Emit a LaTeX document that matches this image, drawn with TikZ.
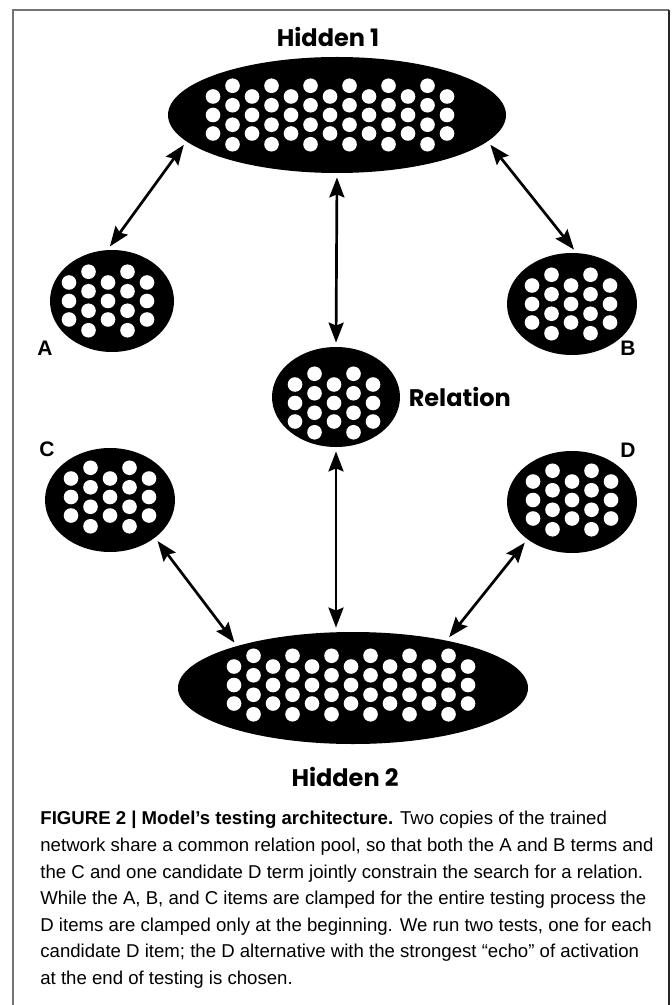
\documentclass[tikz,border=0pt]{standalone}
\usepackage{fontspec}
\setmainfont{Liberation Sans}
\newfontfamily\capfont{Liberation Sans}
\newfontfamily\labfont{Poppins}
\usetikzlibrary{shapes.geometric, arrows.meta, positioning}

% white units of a pool: #1,#2 centre, #3 number of columns
\newcommand{\pool}[3]{%
  \foreach \c in {1,...,#3}{%
    \pgfmathsetmacro{\px}{#1+(\c-(#3+1)/2)*19.5}
    \ifodd\c
      \foreach \r in {-1,0,1} \fill[white] (\px,{#2+\r*18.5}) circle (3.65pt);
    \else
      \foreach \r in {-1.5,-0.5,0.5,1.5} \fill[white] (\px,{#2+\r*19.5}) circle (3.65pt);
    \fi
  }}

\begin{document}
\begin{tikzpicture}[x=0.5pt, y=-0.5pt]
    \tikzstyle{layer} = [ellipse, fill=black, inner sep=0pt]
    \tikzstyle{poolname} = [font=\labfont\bfseries\fontsize{12}{14}\selectfont, inner sep=1pt]
    \tikzstyle{letter} = [font=\bfseries\fontsize{10.5}{12}\selectfont, inner sep=0pt]
    \tikzstyle{link} = [line width=1.35pt, {Stealth[length=10pt,width=7.5pt,inset=1.5pt]}-{Stealth[length=10pt,width=7.5pt,inset=1.5pt]}, shorten <=2pt, shorten >=2pt]

    \useasboundingbox (0,0) rectangle (671,1005);

    % Frame
    \draw[black!55, line width=1pt] (13,1005) -- (13,10) -- (669,10);
    \draw[black!85, line width=1pt] (669,10) -- (669,1005);

    % Pools
    \node (h1) [layer, minimum width=169pt, minimum height=58pt] at (337,115) {};
    \node (h2) [layer, minimum width=175pt, minimum height=56pt] at (353,688) {};
    \node (rel) [layer, minimum width=64pt, minimum height=50pt] at (336,397) {};
    \node (a) [layer, minimum width=62pt, minimum height=51pt] at (112,301) {};
    \node (b) [layer, minimum width=65pt, minimum height=51pt] at (572,304) {};
    \node (c) [layer, minimum width=65pt, minimum height=52pt] at (110,500) {};
    \node (d) [layer, minimum width=65pt, minimum height=51pt] at (572,502) {};

    \pool{330}{115}{13}
    \pool{351}{685}{13}
    \pool{334}{403}{5}
    \pool{108}{301}{5}
    \pool{571}{304}{5}
    \pool{110}{497}{5}
    \pool{572}{500}{5}

    % Labels
    \node (h1name) [poolname] at (328,37) {Hidden 1};
    \node (h2name) [poolname] at (345,777) {Hidden 2};
    \node (relname) [poolname, right=3pt of rel] {Relation};
    \node (aname) [letter] at (45,348) {A};
    \node (bname) [letter] at (628,348) {B};
    \node (cname) [letter] at (47,449) {C};
    \node (dname) [letter] at (628,450) {D};

    % Arrows
    \draw [link] (a.95) -- (h1.190);
    \draw [link] (b.85) -- (h1.350);
    \draw [link] (h1.south) -- (rel.north);
    \draw [link] (rel.south) -- (rel.south |- h2.north);
    \draw [link] (c.320) -- (h2.160);
    \draw [link] (d.220) -- (h2.27);

    % Caption
    \node (caption) [anchor=north west, align=left, inner sep=0pt, font=\capfont\fontsize{9.3}{13.3}\selectfont] at (40,811) {\textbf{FIGURE 2 | Model’s testing architecture.} Two copies of the trained\\
network share a common relation pool, so that both the A and B terms and\\
the C and one candidate D term jointly constrain the search for a relation.\\
While the A, B, and C items are clamped for the entire testing process the\\
D items are clamped only at the beginning. We run two tests, one for each\\
candidate D item; the D alternative with the strongest “echo” of activation\\
at the end of testing is chosen.};
\end{tikzpicture}
\end{document}
